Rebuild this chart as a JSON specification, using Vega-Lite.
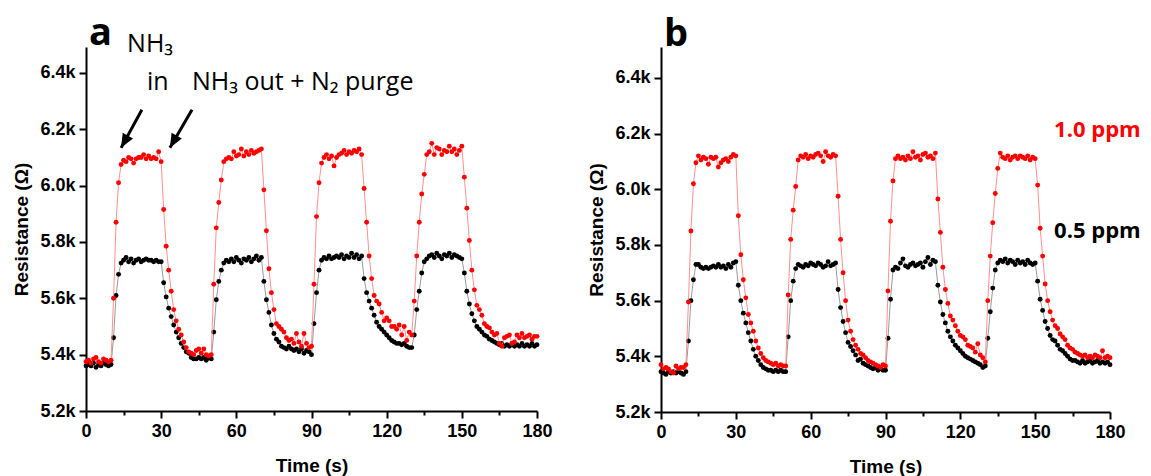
{
"$schema":"https://vega.github.io/schema/vega-lite/v6.json",
"background":"white",
"autosize":{"type":"pad"},
"padding":{"left":12,"top":15,"right":0,"bottom":0},
"spacing":124,
"bounds":"flush",
"datasets":{
"a":[
{"t":0,"hi":5375,"lo":5360},{"t":1,"hi":5380,"lo":5365},{"t":2,"hi":5370,"lo":5360},{"t":3,"hi":5385,"lo":5370},{"t":4,"hi":5390,"lo":5355},{"t":5,"hi":5375,"lo":5365},{"t":6,"hi":5370,"lo":5360},{"t":7,"hi":5385,"lo":5370},{"t":8,"hi":5380,"lo":5365},{"t":9,"hi":5375,"lo":5360},{"t":10,"hi":5380,"lo":5365},
{"t":11,"hi":5600,"lo":5460},{"t":12,"hi":5870,"lo":5610},{"t":13,"hi":6010,"lo":5685},{"t":14,"hi":6075,"lo":5725},{"t":15,"hi":6090,"lo":5735},{"t":16,"hi":6085,"lo":5745},{"t":17,"hi":6100,"lo":5730},{"t":18,"hi":6095,"lo":5740},{"t":19,"hi":6080,"lo":5725},{"t":20,"hi":6095,"lo":5735},
{"t":21,"hi":6100,"lo":5740},{"t":22,"hi":6100,"lo":5730},{"t":23,"hi":6110,"lo":5735},{"t":24,"hi":6095,"lo":5740},{"t":25,"hi":6105,"lo":5735},{"t":26,"hi":6095,"lo":5735},{"t":27,"hi":6100,"lo":5730},{"t":28,"hi":6095,"lo":5735},{"t":29,"hi":6120,"lo":5730},{"t":30,"hi":6085,"lo":5730},
{"t":31,"hi":5915,"lo":5655},{"t":32,"hi":5785,"lo":5605},{"t":33,"hi":5700,"lo":5565},{"t":34,"hi":5625,"lo":5535},{"t":35,"hi":5560,"lo":5505},{"t":36,"hi":5520,"lo":5480},{"t":37,"hi":5490,"lo":5460},{"t":38,"hi":5470,"lo":5440},{"t":39,"hi":5445,"lo":5425},{"t":40,"hi":5425,"lo":5410},
{"t":41,"hi":5410,"lo":5405},{"t":42,"hi":5405,"lo":5390},{"t":43,"hi":5400,"lo":5385},{"t":44,"hi":5415,"lo":5385},{"t":45,"hi":5420,"lo":5390},{"t":46,"hi":5405,"lo":5385},{"t":47,"hi":5420,"lo":5390},{"t":48,"hi":5400,"lo":5380},{"t":49,"hi":5395,"lo":5390},{"t":50,"hi":5400,"lo":5385},
{"t":51,"hi":5650,"lo":5480},{"t":52,"hi":5850,"lo":5595},{"t":53,"hi":5940,"lo":5660},{"t":54,"hi":6020,"lo":5700},{"t":55,"hi":6085,"lo":5725},{"t":56,"hi":6095,"lo":5735},{"t":57,"hi":6100,"lo":5730},{"t":58,"hi":6095,"lo":5740},{"t":59,"hi":6120,"lo":5730},{"t":60,"hi":6105,"lo":5745},
{"t":61,"hi":6110,"lo":5735},{"t":62,"hi":6130,"lo":5725},{"t":63,"hi":6105,"lo":5740},{"t":64,"hi":6120,"lo":5735},{"t":65,"hi":6110,"lo":5745},{"t":66,"hi":6125,"lo":5730},{"t":67,"hi":6115,"lo":5740},{"t":68,"hi":6120,"lo":5750},{"t":69,"hi":6125,"lo":5735},{"t":70,"hi":6130,"lo":5745},
{"t":71,"hi":5985,"lo":5660},{"t":72,"hi":5840,"lo":5595},{"t":73,"hi":5705,"lo":5550},{"t":74,"hi":5620,"lo":5505},{"t":75,"hi":5560,"lo":5475},{"t":76,"hi":5510,"lo":5455},{"t":77,"hi":5500,"lo":5445},{"t":78,"hi":5490,"lo":5430},{"t":79,"hi":5480,"lo":5425},{"t":80,"hi":5460,"lo":5420},
{"t":81,"hi":5450,"lo":5430},{"t":82,"hi":5455,"lo":5420},{"t":83,"hi":5440,"lo":5415},{"t":84,"hi":5475,"lo":5420},{"t":85,"hi":5445,"lo":5410},{"t":86,"hi":5430,"lo":5420},{"t":87,"hi":5475,"lo":5405},{"t":88,"hi":5440,"lo":5415},{"t":89,"hi":5425,"lo":5410},{"t":90,"hi":5430,"lo":5400},
{"t":91,"hi":5650,"lo":5510},{"t":92,"hi":5890,"lo":5620},{"t":93,"hi":6010,"lo":5700},{"t":94,"hi":6080,"lo":5735},{"t":95,"hi":6100,"lo":5745},{"t":96,"hi":6110,"lo":5740},{"t":97,"hi":6095,"lo":5750},{"t":98,"hi":6105,"lo":5740},{"t":99,"hi":6070,"lo":5745},{"t":100,"hi":6100,"lo":5750},
{"t":101,"hi":6110,"lo":5745},{"t":102,"hi":6115,"lo":5755},{"t":103,"hi":6125,"lo":5740},{"t":104,"hi":6110,"lo":5750},{"t":105,"hi":6120,"lo":5745},{"t":106,"hi":6115,"lo":5760},{"t":107,"hi":6125,"lo":5745},{"t":108,"hi":6120,"lo":5755},{"t":109,"hi":6130,"lo":5740},{"t":110,"hi":6110,"lo":5750},
{"t":111,"hi":5990,"lo":5670},{"t":112,"hi":5870,"lo":5620},{"t":113,"hi":5750,"lo":5590},{"t":114,"hi":5670,"lo":5565},{"t":115,"hi":5610,"lo":5540},{"t":116,"hi":5590,"lo":5515},{"t":117,"hi":5580,"lo":5500},{"t":118,"hi":5550,"lo":5490},{"t":119,"hi":5520,"lo":5480},{"t":120,"hi":5530,"lo":5470},
{"t":121,"hi":5520,"lo":5460},{"t":122,"hi":5500,"lo":5450},{"t":123,"hi":5500,"lo":5445},{"t":124,"hi":5490,"lo":5440},{"t":125,"hi":5505,"lo":5440},{"t":126,"hi":5470,"lo":5435},{"t":127,"hi":5500,"lo":5440},{"t":128,"hi":5450,"lo":5430},{"t":129,"hi":5480,"lo":5425},{"t":130,"hi":5470,"lo":5425},
{"t":131,"hi":5590,"lo":5470},{"t":132,"hi":5750,"lo":5560},{"t":133,"hi":5870,"lo":5625},{"t":134,"hi":5970,"lo":5690},{"t":135,"hi":6040,"lo":5730},{"t":136,"hi":6110,"lo":5740},{"t":137,"hi":6120,"lo":5750},{"t":138,"hi":6150,"lo":5755},{"t":139,"hi":6110,"lo":5745},{"t":140,"hi":6135,"lo":5760},
{"t":141,"hi":6130,"lo":5750},{"t":142,"hi":6110,"lo":5740},{"t":143,"hi":6125,"lo":5755},{"t":144,"hi":6120,"lo":5750},{"t":145,"hi":6140,"lo":5760},{"t":146,"hi":6120,"lo":5745},{"t":147,"hi":6130,"lo":5755},{"t":148,"hi":6110,"lo":5750},{"t":149,"hi":6125,"lo":5745},{"t":150,"hi":6140,"lo":5740},
{"t":151,"hi":6030,"lo":5690},{"t":152,"hi":5920,"lo":5625},{"t":153,"hi":5805,"lo":5580},{"t":154,"hi":5700,"lo":5545},{"t":155,"hi":5630,"lo":5520},{"t":156,"hi":5575,"lo":5500},{"t":157,"hi":5560,"lo":5490},{"t":158,"hi":5540,"lo":5480},{"t":159,"hi":5510,"lo":5470},{"t":160,"hi":5500,"lo":5465},
{"t":161,"hi":5495,"lo":5455},{"t":162,"hi":5480,"lo":5450},{"t":163,"hi":5470,"lo":5445},{"t":164,"hi":5475,"lo":5440},{"t":165,"hi":5440,"lo":5435},{"t":166,"hi":5430,"lo":5440},{"t":167,"hi":5460,"lo":5430},{"t":168,"hi":5465,"lo":5435},{"t":169,"hi":5470,"lo":5430},{"t":170,"hi":5440,"lo":5440},
{"t":171,"hi":5445,"lo":5430},{"t":172,"hi":5470,"lo":5435},{"t":173,"hi":5460,"lo":5430},{"t":174,"hi":5475,"lo":5440},{"t":175,"hi":5460,"lo":5430},{"t":176,"hi":5465,"lo":5435},{"t":177,"hi":5470,"lo":5430},{"t":178,"hi":5455,"lo":5440},{"t":179,"hi":5465,"lo":5430},{"t":180,"hi":5465,"lo":5435}
],
"b":[
{"t":0,"hi":5370,"lo":5345},{"t":1,"hi":5355,"lo":5340},{"t":2,"hi":5360,"lo":5335},{"t":3,"hi":5355,"lo":5345},{"t":4,"hi":5345,"lo":5340},{"t":5,"hi":5340,"lo":5345},{"t":6,"hi":5365,"lo":5340},{"t":7,"hi":5355,"lo":5345},{"t":8,"hi":5360,"lo":5340},{"t":9,"hi":5360,"lo":5335},{"t":10,"hi":5370,"lo":5345},
{"t":11,"hi":5595,"lo":5455},{"t":12,"hi":5850,"lo":5600},{"t":13,"hi":6020,"lo":5675},{"t":14,"hi":6095,"lo":5730},{"t":15,"hi":6120,"lo":5730},{"t":16,"hi":6105,"lo":5720},{"t":17,"hi":6115,"lo":5715},{"t":18,"hi":6110,"lo":5720},{"t":19,"hi":6090,"lo":5715},{"t":20,"hi":6115,"lo":5720},
{"t":21,"hi":6110,"lo":5725},{"t":22,"hi":6115,"lo":5720},{"t":23,"hi":6080,"lo":5730},{"t":24,"hi":6095,"lo":5720},{"t":25,"hi":6105,"lo":5725},{"t":26,"hi":6110,"lo":5715},{"t":27,"hi":6100,"lo":5730},{"t":28,"hi":6115,"lo":5720},{"t":29,"hi":6125,"lo":5735},{"t":30,"hi":6120,"lo":5740},
{"t":31,"hi":5905,"lo":5655},{"t":32,"hi":5765,"lo":5600},{"t":33,"hi":5675,"lo":5555},{"t":34,"hi":5610,"lo":5520},{"t":35,"hi":5550,"lo":5485},{"t":36,"hi":5520,"lo":5455},{"t":37,"hi":5490,"lo":5425},{"t":38,"hi":5455,"lo":5400},{"t":39,"hi":5430,"lo":5385},{"t":40,"hi":5410,"lo":5370},
{"t":41,"hi":5395,"lo":5360},{"t":42,"hi":5385,"lo":5355},{"t":43,"hi":5380,"lo":5350},{"t":44,"hi":5375,"lo":5350},{"t":45,"hi":5370,"lo":5345},{"t":46,"hi":5375,"lo":5350},{"t":47,"hi":5365,"lo":5345},{"t":48,"hi":5370,"lo":5350},{"t":49,"hi":5365,"lo":5345},{"t":50,"hi":5365,"lo":5345},
{"t":51,"hi":5620,"lo":5470},{"t":52,"hi":5820,"lo":5600},{"t":53,"hi":5925,"lo":5670},{"t":54,"hi":6010,"lo":5715},{"t":55,"hi":6105,"lo":5730},{"t":56,"hi":6120,"lo":5725},{"t":57,"hi":6115,"lo":5720},{"t":58,"hi":6125,"lo":5730},{"t":59,"hi":6110,"lo":5725},{"t":60,"hi":6120,"lo":5735},
{"t":61,"hi":6115,"lo":5730},{"t":62,"hi":6125,"lo":5725},{"t":63,"hi":6130,"lo":5735},{"t":64,"hi":6120,"lo":5730},{"t":65,"hi":6100,"lo":5720},{"t":66,"hi":6135,"lo":5725},{"t":67,"hi":6120,"lo":5740},{"t":68,"hi":6115,"lo":5725},{"t":69,"hi":6125,"lo":5730},{"t":70,"hi":6120,"lo":5735},
{"t":71,"hi":5975,"lo":5640},{"t":72,"hi":5820,"lo":5575},{"t":73,"hi":5700,"lo":5525},{"t":74,"hi":5600,"lo":5485},{"t":75,"hi":5530,"lo":5450},{"t":76,"hi":5490,"lo":5435},{"t":77,"hi":5460,"lo":5420},{"t":78,"hi":5440,"lo":5405},{"t":79,"hi":5425,"lo":5385},{"t":80,"hi":5410,"lo":5390},
{"t":81,"hi":5405,"lo":5375},{"t":82,"hi":5395,"lo":5370},{"t":83,"hi":5385,"lo":5365},{"t":84,"hi":5380,"lo":5360},{"t":85,"hi":5375,"lo":5355},{"t":86,"hi":5370,"lo":5360},{"t":87,"hi":5365,"lo":5350},{"t":88,"hi":5360,"lo":5355},{"t":89,"hi":5370,"lo":5350},{"t":90,"hi":5365,"lo":5350},
{"t":91,"hi":5635,"lo":5465},{"t":92,"hi":5885,"lo":5605},{"t":93,"hi":6030,"lo":5710},{"t":94,"hi":6110,"lo":5720},{"t":95,"hi":6120,"lo":5715},{"t":96,"hi":6110,"lo":5735},{"t":97,"hi":6115,"lo":5750},{"t":98,"hi":6105,"lo":5725},{"t":99,"hi":6120,"lo":5720},{"t":100,"hi":6110,"lo":5730},
{"t":101,"hi":6135,"lo":5735},{"t":102,"hi":6115,"lo":5725},{"t":103,"hi":6120,"lo":5730},{"t":104,"hi":6105,"lo":5735},{"t":105,"hi":6125,"lo":5720},{"t":106,"hi":6130,"lo":5740},{"t":107,"hi":6115,"lo":5755},{"t":108,"hi":6120,"lo":5730},{"t":109,"hi":6110,"lo":5745},{"t":110,"hi":6130,"lo":5740},
{"t":111,"hi":5965,"lo":5655},{"t":112,"hi":5845,"lo":5595},{"t":113,"hi":5720,"lo":5550},{"t":114,"hi":5640,"lo":5520},{"t":115,"hi":5590,"lo":5490},{"t":116,"hi":5545,"lo":5470},{"t":117,"hi":5530,"lo":5455},{"t":118,"hi":5510,"lo":5440},{"t":119,"hi":5490,"lo":5430},{"t":120,"hi":5475,"lo":5420},
{"t":121,"hi":5470,"lo":5410},{"t":122,"hi":5460,"lo":5400},{"t":123,"hi":5440,"lo":5395},{"t":124,"hi":5435,"lo":5390},{"t":125,"hi":5430,"lo":5385},{"t":126,"hi":5415,"lo":5380},{"t":127,"hi":5445,"lo":5375},{"t":128,"hi":5405,"lo":5370},{"t":129,"hi":5395,"lo":5360},{"t":130,"hi":5380,"lo":5365},
{"t":131,"hi":5600,"lo":5465},{"t":132,"hi":5760,"lo":5560},{"t":133,"hi":5880,"lo":5645},{"t":134,"hi":5985,"lo":5710},{"t":135,"hi":6075,"lo":5735},{"t":136,"hi":6130,"lo":5745},{"t":137,"hi":6115,"lo":5740},{"t":138,"hi":6110,"lo":5750},{"t":139,"hi":6120,"lo":5735},{"t":140,"hi":6105,"lo":5745},
{"t":141,"hi":6115,"lo":5740},{"t":142,"hi":6120,"lo":5730},{"t":143,"hi":6110,"lo":5745},{"t":144,"hi":6120,"lo":5735},{"t":145,"hi":6115,"lo":5740},{"t":146,"hi":6110,"lo":5730},{"t":147,"hi":6120,"lo":5745},{"t":148,"hi":6105,"lo":5735},{"t":149,"hi":6115,"lo":5730},{"t":150,"hi":6110,"lo":5735},
{"t":151,"hi":6015,"lo":5670},{"t":152,"hi":5860,"lo":5605},{"t":153,"hi":5760,"lo":5565},{"t":154,"hi":5660,"lo":5525},{"t":155,"hi":5600,"lo":5500},{"t":156,"hi":5560,"lo":5475},{"t":157,"hi":5530,"lo":5460},{"t":158,"hi":5510,"lo":5455},{"t":159,"hi":5500,"lo":5440},{"t":160,"hi":5480,"lo":5425},
{"t":161,"hi":5470,"lo":5420},{"t":162,"hi":5460,"lo":5410},{"t":163,"hi":5440,"lo":5400},{"t":164,"hi":5430,"lo":5390},{"t":165,"hi":5425,"lo":5385},{"t":166,"hi":5415,"lo":5385},{"t":167,"hi":5410,"lo":5380},{"t":168,"hi":5405,"lo":5375},{"t":169,"hi":5400,"lo":5385},{"t":170,"hi":5405,"lo":5375},
{"t":171,"hi":5395,"lo":5380},{"t":172,"hi":5400,"lo":5385},{"t":173,"hi":5395,"lo":5375},{"t":174,"hi":5405,"lo":5380},{"t":175,"hi":5400,"lo":5385},{"t":176,"hi":5395,"lo":5375},{"t":177,"hi":5420,"lo":5380},{"t":178,"hi":5395,"lo":5375},{"t":179,"hi":5400,"lo":5380},{"t":180,"hi":5395,"lo":5370}
]
},
"hconcat":[
{
"width":451,"height":364,
"data":{"name":"a"},
"encoding":{"x":{"field":"t","type":"quantitative","title":"Time (s)","scale":{"domain":[0,180],"nice":false},
"axis":{"values":[0,15,30,45,60,75,90,105,120,135,150,165,180],"labelExpr":"datum.value % 30 === 0 ? datum.label : ''","tickSize":{"condition":{"test":"datum.value % 30 === 0","value":7},"value":4},"labelPadding":4,"labelOverlap":false,"labelFlush":false,"titlePadding":16}}},
"layer":[
{"mark":{"type":"line","color":"#9a9a9a","strokeWidth":1},
"encoding":{"y":{"field":"lo","type":"quantitative","title":"Resistance (Ω)","scale":{"domain":[5200,6492],"nice":false,"zero":false},
"axis":{"values":[5200,5300,5400,5500,5600,5700,5800,5900,6000,6100,6200,6300,6400],"format":".2s","labelExpr":"datum.value % 200 === 0 ? datum.label : ''","tickSize":{"condition":{"test":"datum.value % 200 === 0","value":7},"value":4},"labelPadding":4,"labelOverlap":false,"labelFlush":false,"titlePadding":8}}}},
{"mark":{"type":"point","filled":true,"color":"#000000","size":24,"opacity":1},"encoding":{"y":{"field":"lo","type":"quantitative","title":"Resistance (Ω)"}}},
{"mark":{"type":"line","color":"#ff9090","strokeWidth":1},"encoding":{"y":{"field":"hi","type":"quantitative","title":"Resistance (Ω)"}}},
{"mark":{"type":"point","filled":true,"color":"#ff0000","size":24,"opacity":1},"encoding":{"y":{"field":"hi","type":"quantitative","title":"Resistance (Ω)"}}},
{"data":{"values":[{"t":22.3,"R":6269,"t2":14.0,"R2":6134},{"t":42.3,"R":6269,"t2":33.5,"R2":6134}]},
"mark":{"type":"rule","color":"#000000","strokeWidth":3},
"encoding":{"x":{"field":"t","type":"quantitative"},"x2":{"field":"t2"},"y":{"field":"R","type":"quantitative","title":"Resistance (Ω)"},"y2":{"field":"R2"}}},
{"data":{"values":[{"t":22.3,"R":6269,"t2":14.0,"R2":6134},{"t":42.3,"R":6269,"t2":33.5,"R2":6134}]},
"mark":{"type":"point","shape":"M0,0 L0.42,1 L-0.42,1 Z","angle":209,"size":784,"filled":true,"color":"#000000","opacity":1},
"encoding":{"x":{"field":"t2","type":"quantitative"},"y":{"field":"R2","type":"quantitative","title":"Resistance (Ω)"}}},
{"data":{"values":[{"t":1.2,"R":6499,"label":"a"}]},
"mark":{"type":"text","align":"left","baseline":"alphabetic","font":"Open Sans","fontWeight":"bold","fontSize":38,"color":"#000000"},
"encoding":{"y":{"field":"R","type":"quantitative","title":"Resistance (Ω)"},"text":{"field":"label"}}},
{"data":{"values":[{"t":16.4,"R":6474,"label":"NH₃"},{"t":24.3,"R":6340,"label":"in"},{"t":42.3,"R":6340,"label":"NH₃ out + N₂ purge"}]},
"mark":{"type":"text","align":"left","baseline":"alphabetic","font":"Open Sans","fontSize":25,"color":"#000000"},
"encoding":{"y":{"field":"R","type":"quantitative","title":"Resistance (Ω)"},"text":{"field":"label"}}}
]
},
{
"width":449,"height":365,
"data":{"name":"b"},
"encoding":{"x":{"field":"t","type":"quantitative","title":"Time (s)","scale":{"domain":[0,180],"nice":false},
"axis":{"values":[0,15,30,45,60,75,90,105,120,135,150,165,180],"labelExpr":"datum.value % 30 === 0 ? datum.label : ''","tickSize":{"condition":{"test":"datum.value % 30 === 0","value":7},"value":4},"labelPadding":4,"labelOverlap":false,"labelFlush":false,"titlePadding":16}}},
"layer":[
{"mark":{"type":"line","color":"#9a9a9a","strokeWidth":1},
"encoding":{"y":{"field":"lo","type":"quantitative","title":"Resistance (Ω)","scale":{"domain":[5200,6511],"nice":false,"zero":false},
"axis":{"values":[5200,5300,5400,5500,5600,5700,5800,5900,6000,6100,6200,6300,6400,6500],"format":".2s","labelExpr":"datum.value % 200 === 0 ? datum.label : ''","tickSize":{"condition":{"test":"datum.value % 200 === 0","value":7},"value":4},"labelPadding":4,"labelOverlap":false,"labelFlush":false,"titlePadding":8}}}},
{"mark":{"type":"point","filled":true,"color":"#000000","size":24,"opacity":1},"encoding":{"y":{"field":"lo","type":"quantitative","title":"Resistance (Ω)"}}},
{"mark":{"type":"line","color":"#ff9090","strokeWidth":1},"encoding":{"y":{"field":"hi","type":"quantitative","title":"Resistance (Ω)"}}},
{"mark":{"type":"point","filled":true,"color":"#ff0000","size":24,"opacity":1},"encoding":{"y":{"field":"hi","type":"quantitative","title":"Resistance (Ω)"}}},
{"data":{"values":[{"t":1.2,"R":6516,"label":"b"}]},
"mark":{"type":"text","align":"left","baseline":"alphabetic","font":"Open Sans","fontWeight":"bold","fontSize":38,"color":"#000000"},
"encoding":{"y":{"field":"R","type":"quantitative","title":"Resistance (Ω)"},"text":{"field":"label"}}},
{"data":{"values":[{"t":157.6,"R":6186,"label":"1.0 ppm"}]},
"mark":{"type":"text","align":"left","baseline":"alphabetic","font":"Open Sans","fontWeight":"bold","fontSize":22,"color":"#ff0000"},
"encoding":{"y":{"field":"R","type":"quantitative","title":"Resistance (Ω)"},"text":{"field":"label"}}},
{"data":{"values":[{"t":157.6,"R":5824,"label":"0.5 ppm"}]},
"mark":{"type":"text","align":"left","baseline":"alphabetic","font":"Open Sans","fontWeight":"bold","fontSize":22,"color":"#000000"},
"encoding":{"y":{"field":"R","type":"quantitative","title":"Resistance (Ω)"},"text":{"field":"label"}}}
]
}
],
"config":{
"view":{"stroke":null},
"axis":{"grid":false,"domainColor":"#000000","domainWidth":2,"tickColor":"#000000","tickWidth":2,"labelFont":"Liberation Sans","labelFontWeight":"bold","labelFontSize":18,"labelColor":"#000000","titleFont":"Liberation Sans","titleFontWeight":"bold","titleFontSize":19,"titleColor":"#000000"}
}
}
